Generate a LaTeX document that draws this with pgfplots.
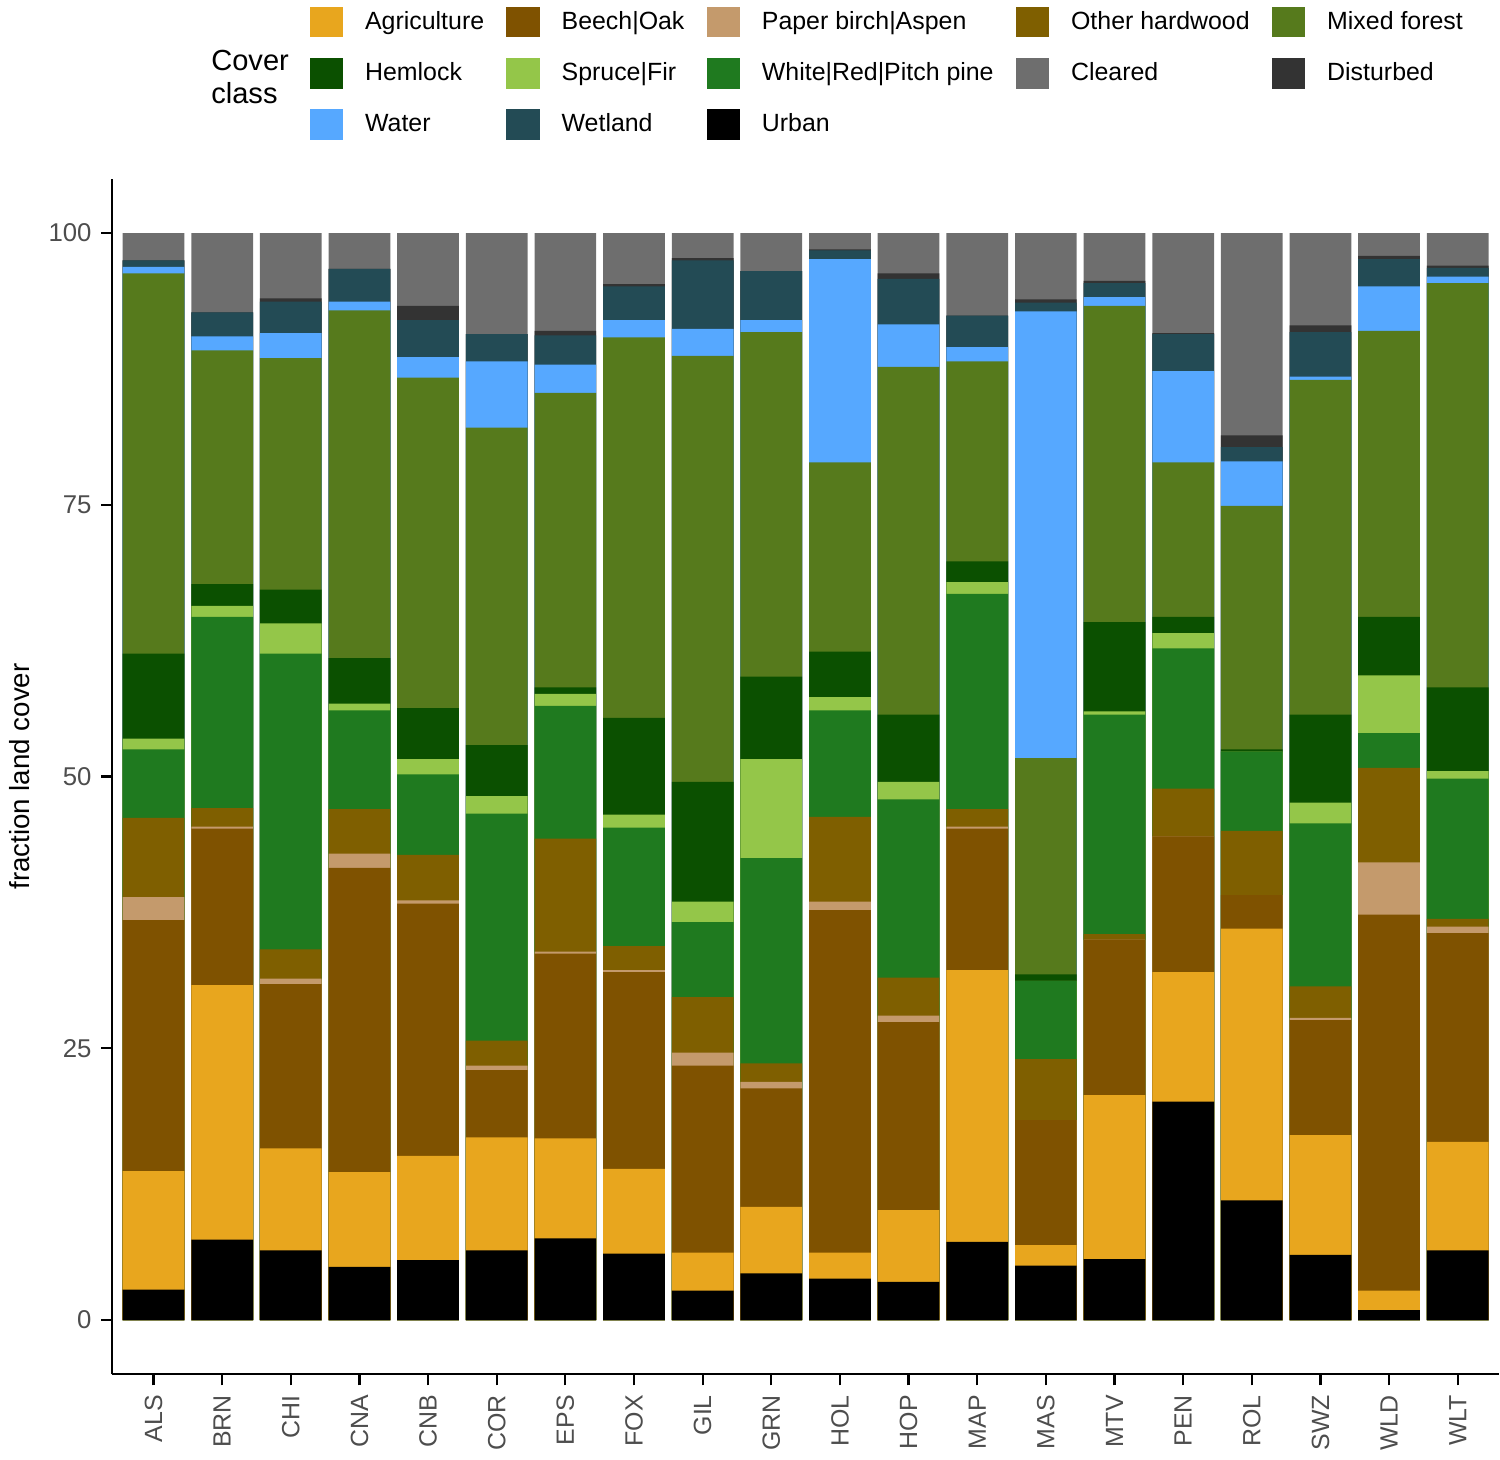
\documentclass[border=0pt]{standalone}
\usepackage{pgfplots}
\usepackage{pgfplotstable}
\pgfplotsset{compat=1.18}
\usepackage{fontspec}
\setmainfont{Liberation Sans}
\definecolor{cAgri}{HTML}{E8A61E}
\definecolor{cBeech}{HTML}{7F5200}
\definecolor{cBirch}{HTML}{C49A6C}
\definecolor{cOther}{HTML}{7F5F00}
\definecolor{cMixed}{HTML}{567A1C}
\definecolor{cHem}{HTML}{0B5000}
\definecolor{cSpruce}{HTML}{94C649}
\definecolor{cPine}{HTML}{1F7A1F}
\definecolor{cClear}{HTML}{6E6E6E}
\definecolor{cDist}{HTML}{333333}
\definecolor{cWater}{HTML}{56A8FF}
\definecolor{cWet}{HTML}{234B55}
\definecolor{cUrban}{HTML}{000000}
\definecolor{tickgray}{HTML}{4D4D4D}
\pgfplotstableread{
x name U A B P O W S H M Wa We D
0 ALS 2.8 13.7 36.8 38.9 46.2 52.5 53.5 61.3 96.3 96.9 97.5 97.5
1 BRN 7.4 30.8 45.2 45.4 47.1 64.7 65.7 67.7 89.2 90.5 92.7 92.7
2 CHI 6.4 15.8 30.9 31.4 34.1 61.3 64.1 67.2 88.5 90.8 93.7 94.0
3 CNA 4.9 13.6 41.6 42.9 47.0 56.1 56.7 60.9 92.9 93.7 96.7 96.7
4 CNB 5.5 15.1 38.3 38.6 42.8 50.2 51.6 56.3 86.7 88.6 92.0 93.3
5 COR 6.4 16.8 23.0 23.4 25.7 46.6 48.2 52.9 82.1 88.2 90.7 90.7
6 EPS 7.5 16.7 33.7 33.9 44.3 56.5 57.6 58.2 85.3 87.9 90.6 91.0
7 FOX 6.1 13.9 32.0 32.2 34.4 45.3 46.5 55.4 90.4 92.0 95.1 95.3
8 GIL 2.7 6.2 23.4 24.6 29.7 36.6 38.5 49.5 88.7 91.2 97.5 97.7
9 GRN 4.3 10.4 21.3 21.9 23.6 42.5 51.6 59.2 90.9 92.0 96.5 96.5
10 HOL 3.8 6.2 37.7 38.5 46.3 56.1 57.3 61.5 78.9 97.6 98.4 98.5
11 HOP 3.5 10.1 27.4 28.0 31.5 47.9 49.5 55.7 87.7 91.6 95.8 96.3
12 MAP 7.2 32.2 45.2 45.4 47.0 66.8 67.9 69.8 88.2 89.5 92.4 92.4
13 MAS 5.0 6.9 18.4 18.4 24.0 31.2 31.2 31.8 51.7 92.8 93.6 93.9
14 MTV 5.6 20.7 35.0 35.0 35.5 55.7 56.0 64.2 93.3 94.1 95.4 95.6
15 PEN 20.1 32.0 44.5 44.5 48.9 61.8 63.2 64.7 78.9 87.3 90.7 90.8
16 ROL 11.0 36.0 39.1 39.1 45.0 52.3 52.3 52.5 74.9 79.0 80.3 81.4
17 SWZ 6.0 17.0 27.6 27.8 30.7 45.7 47.6 55.7 86.5 86.8 90.9 91.5
18 WLD 0.9 2.7 37.3 42.1 50.8 54.0 59.3 64.7 91.0 95.1 97.6 97.9
19 WLT 6.4 16.4 35.6 36.2 36.9 49.8 50.5 58.2 95.4 96.0 96.8 97.0
}\data
\pgfplotsset{
  sq/.style={legend image code/.code={\fill[#1] (0pt,-5.5pt) rectangle (12pt,5.5pt);}}
}
\begin{document}
\begin{tikzpicture}
\begin{axis}[
  scale only axis, width=501pt, height=432pt,
  xmin=-0.6, xmax=19.6, ymin=-5, ymax=105,
  axis lines*=left, axis line style={line width=0.8pt},
  tick style={line width=0.8pt, color=black, major tick length=4pt},
  tick align=outside,
  xtick={0,...,19},
  xticklabels={ALS,BRN,CHI,CNA,CNB,COR,EPS,FOX,GIL,GRN,HOL,HOP,MAP,MAS,MTV,PEN,ROL,SWZ,WLD,WLT},
  x tick label style={rotate=90, anchor=east, font=\fontsize{9}{10}\selectfont, text=tickgray},
  ytick={0,25,50,75,100},
  y tick label style={font=\fontsize{9.3}{10}\selectfont, text=tickgray},
  /pgf/number format/assume math mode=true,
  ylabel={fraction land cover}, ylabel style={font=\fontsize{10}{12}\selectfont},
  every axis plot/.append style={ybar, bar width=22.3pt, bar shift=0pt, draw=none},
  legend columns=5,
  legend style={at={(0.136,1.15)}, anchor=north west, draw=none, fill=none,
    font=\fontsize{9}{11}\selectfont, column sep=6pt, row sep=6.5pt,
    /tikz/every even column/.append style={column sep=6pt}},
  legend cell align=left,
  clip=false,
]
\addplot[fill=cClear, forget plot] table[x=x, y expr=100] {\data};
\addplot[fill=cDist, forget plot] table[x=x, y=D] {\data};
\addplot[fill=cWet, forget plot] table[x=x, y=We] {\data};
\addplot[fill=cWater, forget plot] table[x=x, y=Wa] {\data};
\addplot[fill=cMixed, forget plot] table[x=x, y=M] {\data};
\addplot[fill=cHem, forget plot] table[x=x, y=H] {\data};
\addplot[fill=cSpruce, forget plot] table[x=x, y=S] {\data};
\addplot[fill=cPine, forget plot] table[x=x, y=W] {\data};
\addplot[fill=cOther, forget plot] table[x=x, y=O] {\data};
\addplot[fill=cBirch, forget plot] table[x=x, y=P] {\data};
\addplot[fill=cBeech, forget plot] table[x=x, y=B] {\data};
\addplot[fill=cAgri, forget plot] table[x=x, y=A] {\data};
\addplot[fill=cUrban, forget plot] table[x=x, y=U] {\data};
\addlegendimage{sq=cAgri}\addlegendentry{Agriculture}
\addlegendimage{sq=cBeech}\addlegendentry{Beech|Oak}
\addlegendimage{sq=cBirch}\addlegendentry{Paper birch|Aspen}
\addlegendimage{sq=cOther}\addlegendentry{Other hardwood}
\addlegendimage{sq=cMixed}\addlegendentry{Mixed forest}
\addlegendimage{sq=cHem}\addlegendentry{Hemlock}
\addlegendimage{sq=cSpruce}\addlegendentry{Spruce|Fir}
\addlegendimage{sq=cPine}\addlegendentry{White|Red|Pitch pine}
\addlegendimage{sq=cClear}\addlegendentry{Cleared}
\addlegendimage{sq=cDist}\addlegendentry{Disturbed}
\addlegendimage{sq=cWater}\addlegendentry{Water}
\addlegendimage{sq=cWet}\addlegendentry{Wetland}
\addlegendimage{sq=cUrban}\addlegendentry{Urban}
\node[anchor=west, align=left, font=\fontsize{10.5}{12}\selectfont, inner sep=0pt]
  at (rel axis cs:0.071,1.085) {Cover\\class};
\end{axis}
\end{tikzpicture}
\end{document}
